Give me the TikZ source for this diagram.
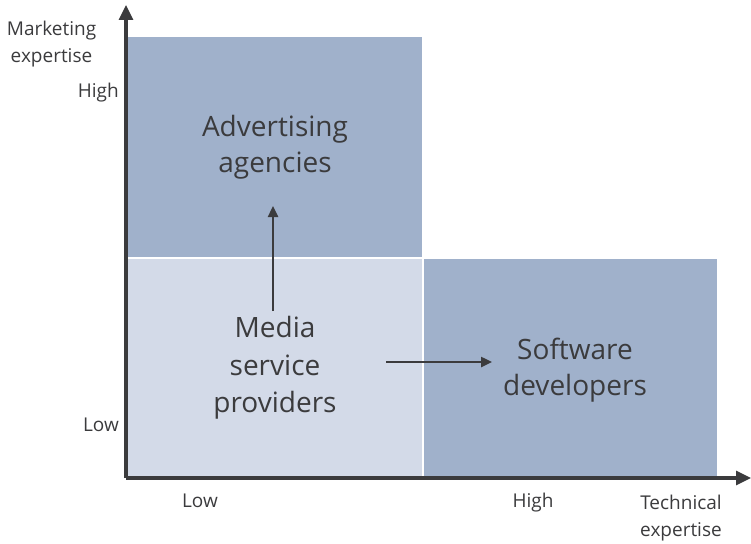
\documentclass[tikz,border=0pt]{standalone}
\usepackage{fontspec}
\setmainfont{Open Sans}
\usetikzlibrary{arrows.meta}
\definecolor{darkq}{HTML}{A0B1CB}
\definecolor{lightq}{HTML}{D3DAE8}
\definecolor{ink}{HTML}{3B3B3D}
\tikzset{
  big/.style={text=ink, align=center, font=\fontsize{28}{36}\selectfont},
  small/.style={text=ink, align=center, font=\fontsize{19}{27}\selectfont},
  axis/.style={draw=ink, line width=3.2pt, -{Triangle[length=15pt,width=14pt]}},
  flow/.style={draw=ink, line width=2.4pt, -{Triangle[length=11pt,width=10pt]}}
}
\begin{document}
\begin{tikzpicture}[x=1pt,y=-1pt]
\useasboundingbox (0,0) rectangle (751,543);
\fill[darkq] (128,37) rectangle (422,257);
\fill[lightq] (128,259) rectangle (422,477);
\fill[darkq] (424,259) rectangle (717,477);
\coordinate (origin) at (126,478);
\coordinate (ytip) at (126,5);
\coordinate (xtip) at (751,478);
\draw[axis] (origin) -- (ytip);
\draw[axis] (origin) -- (xtip);
\node[big] (adv) at (275,147) {Advertising\\agencies};
\node[big, font=\fontsize{28}{37.5}\selectfont] (media) at (275,368) {Media\\service\\providers};
\node[big] (soft) at (575,370) {Software\\developers};
\coordinate (upstart) at (273,311);
\coordinate (upend) at (273,206);
\draw[flow] (upstart) -- (upend);
\coordinate (rstart) at (386,362);
\coordinate (rend) at (492,362);
\draw[flow] (rstart) -- (rend);
\node[small] (ylab) at (51.5,44) {Marketing\\expertise};
\node[small, anchor=east, inner xsep=0pt] (yhigh) at (119,93) {High};
\node[small, anchor=east, inner xsep=0pt] (ylow) at (119,425) {Low};
\node[small] (xlow) at (200,501) {Low};
\node[small] (xhigh) at (533,503) {High};
\node[small] (xlab) at (681,518) {Technical\\expertise};
\end{tikzpicture}
\end{document}
